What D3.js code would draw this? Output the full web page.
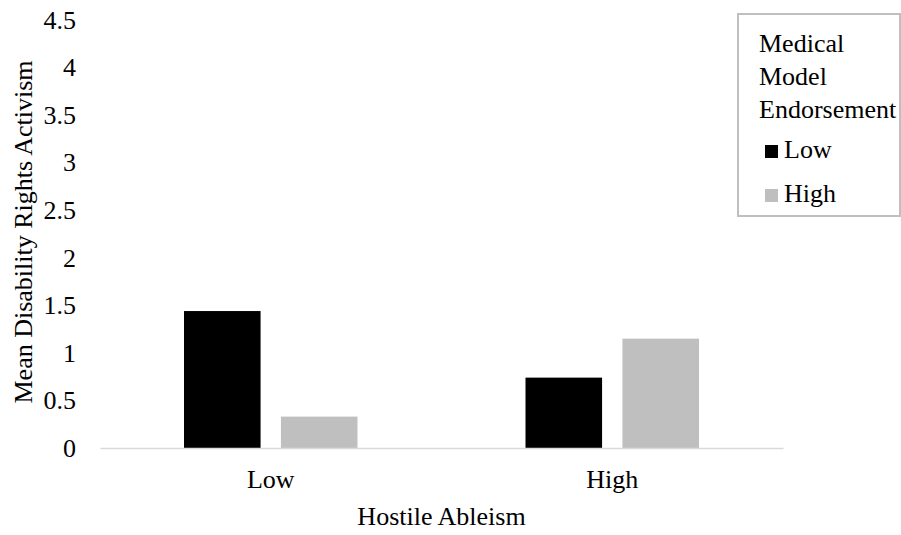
<!DOCTYPE html>
<html>
<head>
<meta charset="utf-8">
<script src="https://cdn.jsdelivr.net/npm/d3@7"></script>
<style>
  body { margin: 0; background: #fff; }
  svg { font-family: "Liberation Serif", "Times New Roman", serif; }
</style>
</head>
<body>
<svg width="901" height="535"></svg>
<script>
// data
const categories = ["Low", "High"];          // Hostile Ableism
const seriesNames = ["Low", "High"];         // Medical Model Endorsement
const lowValues = [1.44, 0.74];
const highValues = [0.33, 1.15];
const yTicks = [0, 0.5, 1, 1.5, 2, 2.5, 3, 3.5, 4, 4.5];
const colors = ["#000000", "#bfbfbf"];

const width = 901, height = 535;
let margin = {top: 20, right: 118, bottom: 87, left: 100},
    plotWidth = width - margin.left - margin.right,
    plotHeight = height - margin.top - margin.bottom;

const svg = d3.select("svg")
const g = svg.append("g")
    .attr("transform", `translate(${margin.left}, ${margin.top})`)

const rows = categories.map((c, i) => ({cat: c, vals: [lowValues[i], highValues[i]]}))

const x0 = d3.scaleBand()
    .domain(categories)
    .range([0, plotWidth])

const x1 = d3.scaleBand()
    .domain(seriesNames)
    .range([84, x0.bandwidth() - 84])
    .paddingInner(0.21)

const y = d3.scaleLinear()
    .domain([0, 4.5])
    .range([plotHeight, 0])

// y tick labels (no axis line, no ticks)
const yAxisCall = d3.axisLeft(y).tickValues(yTicks).tickSize(0).tickPadding(24)
    .tickFormat(d3.format("~g"))
const yAx = g.append("g").call(yAxisCall)
yAx.select(".domain").remove()
yAx.selectAll("text")
    .attr("font-family", "Liberation Serif")
    .attr("font-size", "26px")
    .attr("fill", "#000")

// bars
const groups = g.selectAll(".grp").data(rows).enter().append("g")
    .attr("transform", d => `translate(${x0(d.cat)}, 0)`)

groups.selectAll("rect")
    .data(d => d.vals.map((v, i) => ({name: seriesNames[i], v: v, i: i})))
    .enter().append("rect")
    .attr("x", d => x1(d.name))
    .attr("y", d => y(d.v))
    .attr("width", x1.bandwidth())
    .attr("height", d => plotHeight - y(d.v))
    .attr("fill", d => colors[d.i])

// x axis
const xAxisCall = d3.axisBottom(x0).tickSize(0).tickPadding(22)
const xAx = g.append("g")
    .attr("transform", `translate(0, ${plotHeight})`)
    .call(xAxisCall)
xAx.select(".domain").attr("stroke", "#d9d9d9").attr("stroke-width", 1.5)
xAx.selectAll("text")
    .attr("font-family", "Liberation Serif")
    .attr("font-size", "26px")
    .attr("fill", "#000")

// X label
g.append("text")
    .attr("x", plotWidth / 2)
    .attr("y", plotHeight + 77)
    .attr("font-size", "26px")
    .attr("text-anchor", "middle")
    .text("Hostile Ableism")

// Y label
g.append("text")
    .attr("x", -(plotHeight / 2) + 2)
    .attr("y", -68)
    .attr("font-size", "26px")
    .attr("text-anchor", "middle")
    .attr("transform", "rotate(-90)")
    .text("Mean Disability Rights Activism")

// legend
const lg = svg.append("g").attr("transform", "translate(738, 14)")
lg.append("rect")
    .attr("x", 0).attr("y", 0)
    .attr("width", 162).attr("height", 202)
    .attr("fill", "#fff")
    .attr("stroke", "#bfbfbf")
    .attr("stroke-width", 2)

const titleLines = ["Medical", "Model", "Endorsement"]
lg.selectAll(".ttl").data(titleLines).enter().append("text")
    .attr("x", 21)
    .attr("y", (d, i) => 38 + i * 33)
    .attr("font-size", "26px")
    .text(d => d)

const items = lg.selectAll(".item").data(seriesNames).enter().append("g")
    .attr("transform", (d, i) => `translate(27, ${131 + i * 44})`)
items.append("rect")
    .attr("x", 0).attr("y", 0)
    .attr("width", 13).attr("height", 13)
    .attr("fill", (d, i) => colors[i])
items.append("text")
    .attr("x", 19)
    .attr("y", 13)
    .attr("font-size", "26px")
    .text(d => d)
</script>
</body>
</html>
